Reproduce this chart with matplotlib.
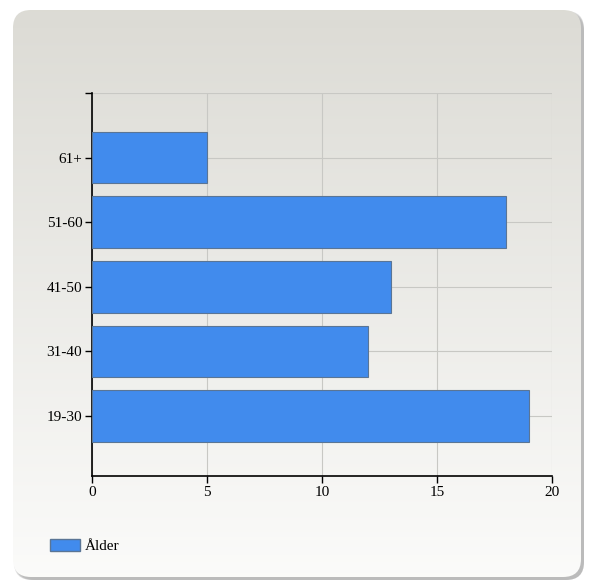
import numpy as np
import matplotlib
matplotlib.use("Agg")
import matplotlib.pyplot as plt
from matplotlib.patches import FancyBboxPatch, Patch

# data
categories = ["19-30", "31-40", "41-50", "51-60", "61+"]
values = [19, 12, 13, 18, 5]
series_name = "Ålder"
xticks = [0, 5, 10, 15, 20]

W, H = 594, 584
plt.rcParams['font.family'] = ['Liberation Serif', 'DejaVu Serif']
fig = plt.figure(figsize=(W / 100, H / 100), dpi=100)

# background panel with shadow and gradient
bg = fig.add_axes([0, 0, 1, 1])
bg.set_xlim(0, W)
bg.set_ylim(H, 0)
bg.axis("off")
for i, a in enumerate([0.05, 0.08, 0.12, 0.18]):
    off = 4 - i
    sh = FancyBboxPatch((13 + off, 10 + off), 571 - off, 570 - off,
                        boxstyle="round,pad=0,rounding_size=18",
                        fc=(0.3, 0.3, 0.3, a), ec="none")
    bg.add_patch(sh)
panel = FancyBboxPatch((13, 10), 568, 567, boxstyle="round,pad=0,rounding_size=18",
                       fc="none", ec="none")
bg.add_patch(panel)
grad = np.linspace(0, 1, 256).reshape(-1, 1)
top = np.array([0.863, 0.859, 0.835])
bot = np.array([0.985, 0.985, 0.98])
img = top + (bot - top) * grad[..., None]
im = bg.imshow(img, extent=[13, 581, 577, 10], aspect="auto", zorder=1)
im.set_clip_path(panel)

# chart
ax = fig.add_axes([92 / W, 1 - 476 / H, (552 - 92) / W, (476 - 93) / H])
ax.set_facecolor("none")
y = np.arange(len(categories))
ax.barh(y, values, height=0.8, color="#418bed", edgecolor="#5a7595", linewidth=0.8, zorder=3)
ax.set_xlim(0, 20)
ax.set_ylim(-0.93, 5.0)
ax.set_xticks(xticks)
ax.set_yticks(list(y) + [5])
ax.set_yticklabels(categories + [""])
ax.grid(True, color="#c8c8c4", linewidth=0.8, zorder=0)
for s in ["top", "right"]:
    ax.spines[s].set_visible(False)
for s in ["left", "bottom"]:
    ax.spines[s].set_color("black")
    ax.spines[s].set_linewidth(1.2)
ax.tick_params(axis="both", length=5, width=1.0, labelsize=11, colors="black")
ax.tick_params(axis="x", pad=2)
ax.tick_params(axis="y", pad=2)

# legend
leg = fig.legend(handles=[Patch(fc="#418bed", ec="#5a7595", label=series_name)],
                 loc="upper left", bbox_to_anchor=(50 / W, 1 - 539 / H),
                 frameon=False, fontsize=11, handlelength=1.96, handleheight=0.85,
                 handletextpad=0.3, borderpad=0, borderaxespad=0)

fig.savefig("out.png", dpi=100)
